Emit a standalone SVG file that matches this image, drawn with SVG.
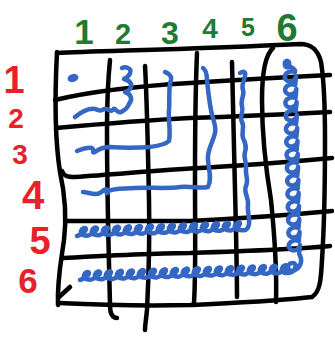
<svg xmlns="http://www.w3.org/2000/svg" width="335" height="338" viewBox="0 0 335 338">
<style>
.k{fill:none;stroke:#000;stroke-width:4.5;stroke-linecap:round;stroke-linejoin:round}
.b{fill:none;stroke:#3466c4;stroke-width:4.5;stroke-linecap:round;stroke-linejoin:round}
.g{fill:#1f7a34;font-family:"Liberation Sans",sans-serif;font-weight:bold;text-anchor:middle}
.r{fill:#e8202a;font-family:"Liberation Sans",sans-serif;font-weight:bold;text-anchor:middle}
</style>
<rect width="335" height="338" fill="#fff"/>
<g id="col-labels">
<text class="g" x="84" y="44" font-size="35">1</text>
<text class="g" x="123" y="44" font-size="29">2</text>
<text class="g" x="170" y="44" font-size="32">3</text>
<text class="g" x="210" y="38" font-size="28">4</text>
<text class="g" x="248" y="36" font-size="25">5</text>
<text class="g" x="287" y="41" font-size="38">6</text>
</g>
<g id="row-labels">
<text class="r" x="14" y="93" font-size="38">1</text>
<text class="r" x="16" y="128" font-size="28">2</text>
<text class="r" x="20" y="164" font-size="28">3</text>
<text class="r" x="33" y="209" font-size="40">4</text>
<text class="r" x="40" y="254" font-size="38">5</text>
<text class="r" x="28" y="293" font-size="35">6</text>
</g>
<g id="grid">
<path class="k" d="M57,53 C100,51 200,49 300,44 C312,44 318,50 321,62 C324,80 325,110 325,140 C325,180 324,230 322,260 C321,280 320,292 312,297 C280,301 230,303 190,305 C150,306 100,305 59,303"/>
<path class="k" d="M57,52 C55,90 55,140 60,172 C64,190 67,215 64,240 C61,262 57,280 58,305"/>
<path class="k" d="M70,287 L59,297"/>
<path class="k" d="M55,100 C80,94 120,87 190,83 C250,79 290,77 330,75"/>
<path class="k" d="M56,128 C100,124 150,120 190,118 C250,116 290,114 330,112"/>
<path class="k" d="M62,171 C64,176 67,177 75,177 C120,174 160,170 200,168 C250,165 290,162 332,158"/>
<path class="k" d="M66,221 C120,221 160,221 190,221 C250,218 300,214 332,211"/>
<path class="k" d="M63,258 C120,255 160,253 190,253 C250,251 300,249 330,246"/>
<path class="k" d="M110,60 C108,80 107,100 107,130 C107,200 109,260 110,305 C110,312 111,318 117,318"/>
<path class="k" d="M145,66 C147,100 148,150 149,200 C150,250 148,290 147,310 C146,320 145,326 145,330"/>
<path class="k" d="M197,53 C195,100 195,150 195,180 C195,230 196,270 194,303"/>
<path class="k" d="M232,62 C233,100 234,150 235,190 C236,230 237,270 237,297"/>
<path class="k" d="M273,48 C265,55 262,75 262,100 C262,140 266,170 271,200 C275,240 277,270 276,302"/>
</g>
<g id="path-strokes">
<ellipse cx="73" cy="78" rx="5.5" ry="4" fill="#3466c4" transform="rotate(-15 73 78)"/>
<path class="b" d="M75,117 C80,113 88,108 95,109 C99,110 100,112 104,109 C107,107 110,113 113,110 C115,106 117,114 121,112 C125,110 128,107 129,104 C133,99 131,94 125,92 C132,90 135,82 124,79 C130,76 133,70 128,68 C126,67 124,67 122,68"/>
<path class="b" d="M77,151 C82,149 88,147 92,148 C95,150 91,154 95,152 C99,149 104,147 110,147 C125,148 135,148 150,147 C157,146 165,145 169,141 C171,130 168,120 169,110 C170,100 168,88 171,80 C172,76 168,73 165,72"/>
<path class="b" d="M83,192 C88,192 95,196 100,193 C104,190 106,188 108,190 C110,193 104,195 108,191 C115,188 125,189 135,188 C150,187 165,189 180,187 C192,186 200,189 208,187 C212,180 209,170 208,160 C207,150 212,145 215,133 C217,126 212,118 211,110 C209,100 208,90 207,80 C207,73 206,70 203,68"/>
<path class="b" d="M240,73 C243,71 246,71 245,76 C244,82 241,85 243,90 C245,95 240,100 242,106 C244,112 239,117 242,122 C245,127 241,132 243,138 C245,143 247,146 245,152 C243,158 247,162 246,168 C245,175 249,180 246,186 C243,192 249,197 248,205 C247,212 250,218 249,224 C248,230 245,231 241,230"/>
<path class="b" stroke-width="5" d="M77,236 c4,-1 9,-5 9,-7 c0,-2 -4,-1 -5,2 c-1,3 2,5 7,4.6 c4,-1 9,-5 9,-7 c0,-2 -4,-1 -5,2 c-1,3 2,5 7,4.6 c4,-1 9,-5 9,-7 c0,-2 -4,-1 -5,2 c-1,3 2,5 7,4.6 c4,-1 9,-5 9,-7 c0,-2 -4,-1 -5,2 c-1,3 2,5 7,4.6 c4,-1 9,-5 9,-7 c0,-2 -4,-1 -5,2 c-1,3 2,5 7,4.6 c4,-1 9,-5 9,-7 c0,-2 -4,-1 -5,2 c-1,3 2,5 7,4.6 c4,-1 9,-5 9,-7 c0,-2 -4,-1 -5,2 c-1,3 2,5 7,4.6 c4,-1 9,-5 9,-7 c0,-2 -4,-1 -5,2 c-1,3 2,5 7,4.6 c4,-1 9,-5 9,-7 c0,-2 -4,-1 -5,2 c-1,3 2,5 7,4.6 c4,-1 9,-5 9,-7 c0,-2 -4,-1 -5,2 c-1,3 2,5 7,4.6 c4,-1 9,-5 9,-7 c0,-2 -4,-1 -5,2 c-1,3 2,5 7,4.6 c4,-1 9,-5 9,-7 c0,-2 -4,-1 -5,2 c-1,3 2,5 7,4.6 c4,-1 9,-5 9,-7 c0,-2 -4,-1 -5,2 c-1,3 2,5 7,4.6 c4,-1 9,-5 9,-7 c0,-2 -4,-1 -5,2 c-1,3 2,5 7,4.6 c4,-1 9,-5 9,-7 c0,-2 -4,-1 -5,2 c-1,3 2,5 5,4.6"/>
<ellipse cx="287" cy="64" rx="4.5" ry="5.5" fill="#3466c4"/>
<path class="b" stroke-width="5" d="M289,66 C292,68 296,69 295,72 c-7,-3 -13,4 -9,8 c3,3 10,1 10,-4 c0,4 -1,7 -0.7,9 c-7,-3 -13,4 -9,8 c3,3 10,1 10,-4 c0,4 -1,7 -0.7,9 c-7,-3 -13,4 -9,8 c3,3 10,1 10,-4 c0,4 -1,7 -0.7,9 c-7,-3 -13,4 -9,8 c3,3 10,1 10,-4 c0,4 -1,7 -0.7,9 c-7,-3 -13,4 -9,8 c3,3 10,1 10,-4 c0,4 -1,7 -0.7,9 c-7,-3 -13,4 -9,8 c3,3 10,1 10,-4 c0,4 -1,7 -0.7,9 c-7,-3 -13,4 -9,8 c3,3 10,1 10,-4 c0,4 -1,7 -0.7,9 c-7,-3 -13,4 -9,8 c3,3 10,1 10,-4 c0,4 -1,7 -0.7,9 c-7,-3 -13,4 -9,8 c3,3 10,1 10,-4 c0,4 -1,7 -0.7,9 c-7,-3 -13,4 -9,8 c3,3 10,1 10,-4 c0,4 -1,7 -0.7,9 c-7,-3 -13,4 -9,8 c3,3 10,1 10,-4 c0,4 -1,7 -0.7,9 c-7,-3 -13,4 -9,8 c3,3 10,1 10,-4 c0,4 -1,7 -0.7,9 c-7,-3 -13,4 -9,8 c3,3 10,1 10,-4 c0,4 -1,7 -0.7,9 c-7,-3 -13,4 -9,8 c3,3 10,1 10,-4 c0,4 -1,7 -0.7,9 C303,260 301,267 295,270 C288,274 285,264 292,263 C298,262 296,272 289,273"/>
<path class="b" stroke-width="5" d="M80,280 c4,-1 9,-5 9,-7 c0,-2 -4,-1 -5,2 c-1,3 2,5 7,4.63 c4,-1 9,-5 9,-7 c0,-2 -4,-1 -5,2 c-1,3 2,5 7,4.63 c4,-1 9,-5 9,-7 c0,-2 -4,-1 -5,2 c-1,3 2,5 7,4.63 c4,-1 9,-5 9,-7 c0,-2 -4,-1 -5,2 c-1,3 2,5 7,4.63 c4,-1 9,-5 9,-7 c0,-2 -4,-1 -5,2 c-1,3 2,5 7,4.63 c4,-1 9,-5 9,-7 c0,-2 -4,-1 -5,2 c-1,3 2,5 7,4.63 c4,-1 9,-5 9,-7 c0,-2 -4,-1 -5,2 c-1,3 2,5 7,4.63 c4,-1 9,-5 9,-7 c0,-2 -4,-1 -5,2 c-1,3 2,5 7,4.63 c4,-1 9,-5 9,-7 c0,-2 -4,-1 -5,2 c-1,3 2,5 7,4.63 c4,-1 9,-5 9,-7 c0,-2 -4,-1 -5,2 c-1,3 2,5 7,4.63 c4,-1 9,-5 9,-7 c0,-2 -4,-1 -5,2 c-1,3 2,5 7,4.63 c4,-1 9,-5 9,-7 c0,-2 -4,-1 -5,2 c-1,3 2,5 7,4.63 c4,-1 9,-5 9,-7 c0,-2 -4,-1 -5,2 c-1,3 2,5 7,4.63 c4,-1 9,-5 9,-7 c0,-2 -4,-1 -5,2 c-1,3 2,5 7,4.63 c4,-1 9,-5 9,-7 c0,-2 -4,-1 -5,2 c-1,3 2,5 7,4.63 c4,-1 9,-5 9,-7 c0,-2 -4,-1 -5,2 c-1,3 2,5 7,4.63 c4,-1 9,-5 9,-7 c0,-2 -4,-1 -5,2 c-1,3 2,5 7,4.63 c4,-1 9,-5 9,-7 c0,-2 -4,-1 -5,2 c-1,3 2,5 7,4.63 c4,-1 9,-5 9,-7 c0,-2 -4,-1 -5,2 c-1,3 2,5 5,4.63"/>
</g>
</svg>
